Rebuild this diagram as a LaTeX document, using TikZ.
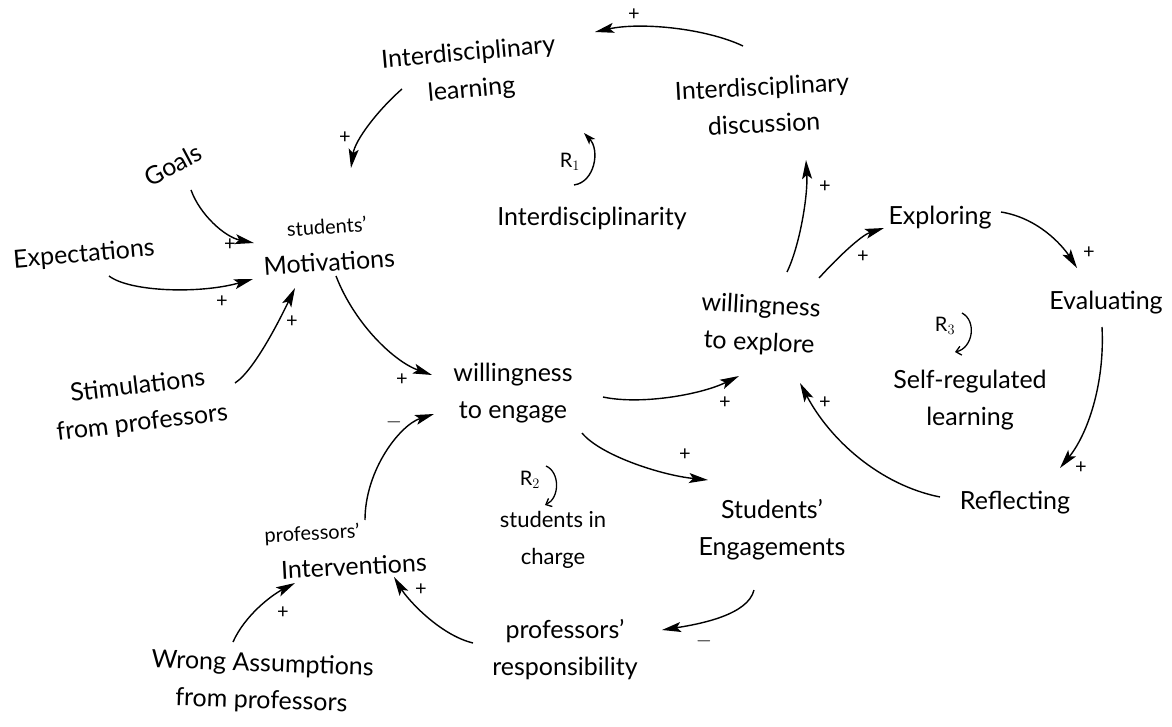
\documentclass[tikz,border=0pt]{standalone}
\usepackage{fontspec}
\setmainfont{Lato}
\usetikzlibrary{arrows.meta,calc}
\begin{document}
\begin{tikzpicture}[x=1pt,y=1pt,
  lab/.style={font=\fontsize{25}{37}\selectfont, align=center, inner sep=2pt},
  sgn/.style={font=\fontsize{20}{20}\selectfont, inner sep=0pt},
  rl/.style={font=\fontsize{20}{20}\selectfont, inner sep=0pt},
  link/.style={line width=1.4pt, -{Stealth[length=19pt,width=10pt,inset=4pt]}},
  rarrow/.style={line width=1.4pt, -{Stealth[length=12pt,width=8pt,inset=3pt]}},
  rbarb/.style={line width=1.3pt, -{Straight Barb[length=5pt,width=9pt]}},
]
\useasboundingbox (0,0) rectangle (1172,-727);

% ---------- variables ----------
\node[lab, rotate=5] (il) at (470,-72) {Interdisciplinary\\learning};
\node[lab, rotate=3] (id) at (763,-105) {Interdisciplinary\\discussion};
\node[lab] (inter) at (592,-218) {Interdisciplinarity};
\node[lab, rotate=28] (goals) at (173,-165) {Goals};
\node[lab, rotate=5] (exp) at (84,-255) {Expectations};
\node[lab, rotate=4] (mot) at (328,-245) {{\fontsize{20}{24}\selectfont students'}\\Motivations};
\node[lab, rotate=7] (stim) at (140,-405) {Stimulations\\from professors};
\node[lab] (wen) at (513,-393) {willingness\\to engage};
\node[lab, rotate=-3] (wex) at (760,-325) {willingness\\to explore};
\node[lab] (explo) at (940,-218) {Exploring};
\node[lab] (eval) at (1106,-303) {Evaluating};
\node[lab] (srl) at (970,-400) {Self-regulated\\learning};
\node[lab] (refl) at (1015,-503) {Reflecting};
\node[lab] (seng) at (772,-530) {Students'\\Engagements};
\node[lab] (sic) at (553,-540) {{\fontsize{22}{30}\selectfont students in}\\{\fontsize{22}{30}\selectfont charge}};
\node[lab, rotate=3] (pint) at (338,-550) {{\fontsize{20}{24}\selectfont professors'}\hspace*{50pt}\\\hspace*{30pt}Interventions};
\node[lab] (presp) at (565,-650) {professors'\\responsibility};
\node[lab, rotate=-2] (wrong) at (262,-683) {Wrong Assumptions\\from professors};

% ---------- loop labels ----------
\node[rl] (r1) at (570,-162) {R$_1$};
\node[rl] (r2) at (530,-480) {R$_2$};
\node[rl] (r3) at (945,-326) {R$_3$};
\draw[rarrow] ($(r1)+(4,-23)$) .. controls ($(r1)+(25,-20)$) and ($(r1)+(30,12)$) .. ($(r1)+(14,29)$);
\draw[rbarb] ($(r2)+(16,14)$) .. controls ($(r2)+(30,8)$) and ($(r2)+(30,-18)$) .. ($(r2)+(15,-25)$);
\draw[rbarb] ($(r3)+(17,13)$) .. controls ($(r3)+(32,5)$) and ($(r3)+(28,-22)$) .. ($(r3)+(10,-26)$);

% ---------- links ----------
\draw[link] ($(id)+(-20,59)$) .. controls ($(id)+(-58,77)$) and ($(il)+(170,50)$) .. ($(il)+(125,40)$);
\draw[link] ($(il)+(-68,-17)$) .. controls ($(il)+(-92,-38)$) and ($(mot)+(27,105)$) .. ($(mot)+(23,77)$);
\draw[link] ($(goals)+(18,-25)$) .. controls ($(goals)+(27,-50)$) and ($(mot)+(-103,8)$) .. ($(mot)+(-74,2)$);
\draw[link] ($(exp)+(25,-21)$) .. controls ($(exp)+(46,-37)$) and ($(mot)+(-128,-49)$) .. ($(mot)+(-75,-34)$);
\draw[link] ($(stim)+(95,22)$) .. controls ($(stim)+(115,35)$) and ($(mot)+(-46,-70)$) .. ($(mot)+(-33,-43)$);
\draw[link] ($(mot)+(8,-31)$) .. controls ($(mot)+(27,-80)$) and ($(wen)+(-118,31)$) .. ($(wen)+(-81,18)$);
\draw[link] ($(pint)+(27,30)$) .. controls ($(pint)+(27,80)$) and ($(wen)+(-113,-32)$) .. ($(wen)+(-79,-21)$);
\draw[link] ($(wen)+(90,-4)$) .. controls ($(wen)+(127,-12)$) and ($(wex)+(-60,-70)$) .. ($(wex)+(-21,-51)$);
\draw[link] ($(wen)+(69,-40)$) .. controls ($(wen)+(87,-62)$) and ($(seng)+(-112,55)$) .. ($(seng)+(-64,50)$);
\draw[link] ($(seng)+(-18,-60)$) .. controls ($(seng)+(-24,-85)$) and ($(presp)+(135,26)$) .. ($(presp)+(97,20)$);
\draw[link] ($(presp)+(-92,7)$) .. controls ($(presp)+(-125,15)$) and ($(pint)+(70,-50)$) .. ($(pint)+(56,-27)$);
\draw[link] ($(wrong)+(-29,41)$) .. controls ($(wrong)+(-17,68)$) and ($(pint)+(-66,-45)$) .. ($(pint)+(-43,-33)$);
\draw[link] ($(wex)+(27,53)$) .. controls ($(wex)+(40,80)$) and ($(id)+(45,-90)$) .. ($(id)+(43,-55)$);
\draw[link] ($(wex)+(59,47)$) .. controls ($(wex)+(80,70)$) and ($(explo)+(-78,-17)$) .. ($(explo)+(-56,-10)$);
\draw[link] ($(explo)+(61,6)$) .. controls ($(explo)+(98,0)$) and ($(eval)+(-44,58)$) .. ($(eval)+(-29,35)$);
\draw[link] ($(eval)+(-4,-24)$) .. controls ($(eval)+(-1,-82)$) and ($(refl)+(72,68)$) .. ($(refl)+(45,35)$);
\draw[link] ($(refl)+(-75,6)$) .. controls ($(refl)+(-135,18)$) and ($(wex)+(70,-115)$) .. ($(wex)+(40,-58)$);

% ---------- polarity signs ----------
\node[sgn] (p1) at (634,-15) {+};
\node[sgn] (p2) at (345,-138) {+};
\node[sgn] (p3) at (230,-245) {+};
\node[sgn] (p4) at (222,-302) {+};
\node[sgn] (p5) at (292,-322) {+};
\node[sgn] (p6) at (402,-380) {+};
\node[sgn] (p7) at (394,-422) {$-$};
\node[sgn] (p8) at (725,-403) {+};
\node[sgn] (p9) at (685,-455) {+};
\node[sgn] (p10) at (704,-641) {$-$};
\node[sgn] (p11) at (421,-590) {+};
\node[sgn] (p12) at (283,-613) {+};
\node[sgn] (p13) at (825,-187) {+};
\node[sgn] (p14) at (863,-257) {+};
\node[sgn] (p15) at (1089,-253) {+};
\node[sgn] (p16) at (1081,-468) {+};
\node[sgn] (p17) at (825,-403) {+};
\end{tikzpicture}
\end{document}
